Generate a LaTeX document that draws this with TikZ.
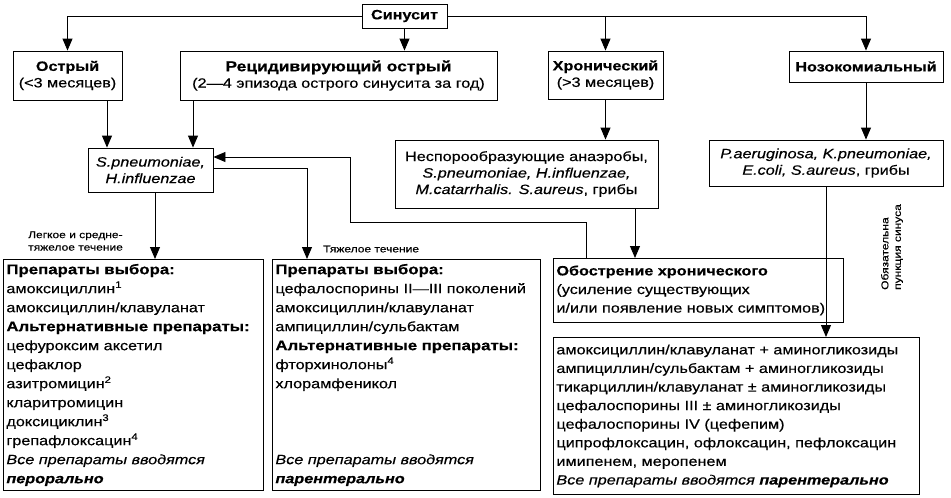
\documentclass[tikz,border=0pt]{standalone}
\usepackage{fontspec}
\setmainfont{Liberation Sans}[FakeStretch=1.2, FakeBold=0.4]
\usetikzlibrary{arrows.meta}
\newcommand{\hd}[1]{{\fontsize{14}{19}\selectfont\textbf{#1}}}
\begin{document}
\begin{tikzpicture}[x=1pt,y=-1pt,
  box/.style={draw, line width=0.9pt, inner sep=3pt, align=center,
    font=\fontsize{13.5}{16.5}\selectfont},
  lbox/.style={box, align=left, anchor=north west, inner xsep=3pt, inner ysep=4pt},
  arr/.style={-{Triangle[width=10pt,length=12pt]}, line width=0.9pt},
  small/.style={font=\fontsize{10}{12.5}\selectfont, inner sep=0pt}]
\useasboundingbox (0,0) rectangle (951,498);

% top row
\node[box, minimum width=85, minimum height=24] (sin) at (404.5,16) {\bfseries Синусит};
\node[box, minimum width=109, minimum height=49] (ostr) at (67.5,75.5) {\textbf{Острый}\\(<3 месяцев)};
\node[box, minimum width=317, minimum height=49] (rec) at (338.5,75.5) {{\fontsize{14.5}{16.5}\selectfont\textbf{Рецидивирующий острый}}\\(2—4 эпизода острого синусита за год)};
\node[box, minimum width=115, minimum height=48] (chr) at (605.5,75) {\textbf{Хронический}\\(>3 месяцев)};
\node[box, minimum width=154, minimum height=31] (noz) at (866,66.5) {\bfseries Нозокомиальный};

% pathogens
\node[box, minimum width=125, minimum height=44] (spn) at (150.5,170) {\textit{S.pneumoniae,}\\\textit{H.influenzae}};
\node[box, minimum width=263, minimum height=68] (nesp) at (526.5,174) {Неспорообразующие анаэробы,\\\textit{S.pneumoniae, H.influenzae,}\\\textit{M.catarrhalis. S.aureus}, грибы};
\node[box, minimum width=234, minimum height=46] (pae) at (826,163) {\textit{P.aeruginosa, K.pneumoniae,}\\\textit{E.coli, S.aureus}, грибы};

% treatment boxes
\node[lbox, minimum width=260, minimum height=231, text width=254, font=\fontsize{13.5}{19}\selectfont] (b1) at (3,259) {%
\hd{Препараты выбора:}\\
амоксициллин\textsuperscript{1}\\
амоксициллин/клавуланат\\
\hd{Альтернативные препараты:}\\
цефуроксим аксетил\\
цефаклор\\
азитромицин\textsuperscript{2}\\
кларитромицин\\
доксициклин\textsuperscript{3}\\
грепафлоксацин\textsuperscript{4}\\
\textit{Все препараты вводятся}\\
\textit{\textbf{перорально}}};

\node[lbox, minimum width=268, minimum height=231, text width=262, font=\fontsize{13.5}{19}\selectfont] (b2) at (272,259) {%
\hd{Препараты выбора:}\\
цефалоспорины II—III поколений\\
амоксициллин/клавуланат\\
ампициллин/сульбактам\\
\hd{Альтернативные препараты:}\\
фторхинолоны\textsuperscript{4}\\
хлорамфеникол\\
\mbox{}\\
\mbox{}\\
\mbox{}\\
\textit{Все препараты вводятся}\\
\textit{\textbf{парентерально}}};

\node[lbox, minimum width=290, minimum height=64, text width=284, font=\fontsize{13.5}{18.6}\selectfont] (obo) at (553,258) {%
\textbf{Обострение хронического}\\
(усиление существующих\\
и/или появление новых симптомов)};

\node[lbox, minimum width=366, minimum height=157, text width=360, font=\fontsize{13.5}{18.6}\selectfont] (b3) at (553,337) {%
амоксициллин/клавуланат + аминогликозиды\\
ампициллин/сульбактам + аминогликозиды\\
тикарциллин/клавуланат ± аминогликозиды\\
цефалоспорины III ± аминогликозиды\\
цефалоспорины IV (цефепим)\\
ципрофлоксацин, офлоксацин, пефлоксацин\\
имипенем, меропенем\\
\textit{Все препараты вводятся \textbf{парентерально}}};

% labels
\node[small, anchor=west, align=left] (lbl1) at (28,241) {Легкое и средне-\\тяжелое течение};
\node[small, anchor=west] (lbl2) at (323,249) {Тяжелое течение};
\node[small, rotate=90, align=left] (lbl3) at (892,247) {Обязательна\\пункция синуса};

% helper coordinates
\coordinate (xa) at (107,0);
\coordinate (xb) at (193,0);
\coordinate (xc) at (155,0);
\coordinate (m1) at (307,168);
\coordinate (k1) at (586,222);
\coordinate (k2) at (350,157);
\coordinate (xd) at (635,0);

% connectors
\draw[arr] (sin.west) -| (ostr.north);
\draw[arr] (sin.east) -| (noz.north);
\draw[arr] (chr.north |- sin.east) -- (chr.north);
\draw[arr] (sin.south) -- (sin.south |- rec.north);
\draw[arr] (ostr.south -| xa) -- (spn.north -| xa);
\draw[arr] (rec.south -| xb) -- (spn.north -| xb);
\draw[arr] (chr.south) -- (chr.south |- nesp.north);
\draw[arr] (noz.south) -- (noz.south |- pae.north);
\draw[arr] (spn.south -| xc) -- (b1.north -| xc);
\draw[arr] (spn.east |- m1) -| (b2.north -| m1);
\draw[arr] (obo.north -| k1) -- (k1) -| (k2) -- (spn.east |- k2);
\draw[arr] (nesp.south -| xd) -- (obo.north -| xd);
\draw[arr] (pae.south) -- (pae.south |- b3.north);
\end{tikzpicture}
\end{document}
